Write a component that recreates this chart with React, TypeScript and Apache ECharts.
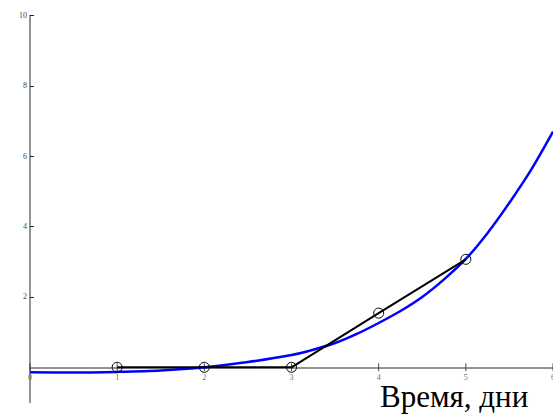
import React, { useEffect, useRef } from "react";
import * as echarts from "echarts";

// Observed data points (black polyline with circles)
const obsX = [1, 2, 3, 4, 5];
const obsY = [0, 0, 0, 1.54, 3.07];

// Fitted curve (blue)
const fitX = [0, 0.5, 1, 1.5, 2, 2.5, 3, 3.25, 3.5, 3.75, 4, 4.25, 4.5, 4.75, 5, 5.25, 5.5, 5.75, 6];
const fitY = [-0.14, -0.15, -0.13, -0.09, 0.0, 0.15, 0.35, 0.5, 0.69, 0.95, 1.26, 1.6, 2.0, 2.5, 3.08, 3.82, 4.68, 5.62, 6.7];

const xTicks = [0, 1, 2, 3, 4, 5, 6];
const yTicks = [2, 4, 6, 8, 10];
const xTitle = "Время, дни";

export default function App() {
  const ref = useRef<HTMLDivElement>(null);
  useEffect(() => {
    if (!ref.current) return;
    const chart = echarts.init(ref.current, null, { renderer: "svg" });
    const labelFont = { fontFamily: "Liberation Serif", fontSize: 8, color: "#444" };
    chart.setOption({
      animation: false,
      backgroundColor: "#fff",
      grid: { left: 30, right: 0, top: 15.5, bottom: 12.5, containLabel: false, outerBoundsMode: "none" },
      xAxis: {
        type: "value",
        min: 0,
        max: 6,
        interval: 1,
        axisLine: { show: true, onZero: true, lineStyle: { color: "#707070", width: 1.5 } },
        axisTick: { show: false },
        axisLabel: { show: false },
        splitLine: { show: false },
      },
      yAxis: {
        type: "value",
        min: -1,
        max: 10,
        axisLine: { show: true, onZero: true, lineStyle: { color: "#707070", width: 1.5 } },
        axisTick: { show: true, inside: true, length: 4, customValues: yTicks, lineStyle: { color: "#222", width: 1 } },
        axisLabel: { show: true, customValues: yTicks, margin: 3, ...labelFont },
        splitLine: { show: false },
      },
      graphic: [
        {
          type: "text",
          left: 380,
          top: 381,
          style: {
            text: xTitle,
            font: "31px 'Liberation Serif'",
            fill: "#000",
          },
        },
      ],
      series: [
        {
          // x-axis ticks and labels placed on the zero line
          type: "scatter",
          data: xTicks.map((x) => [x, 0]),
          symbol: "rect",
          symbolSize: [1, 8],
          itemStyle: { color: "#222" },
          label: {
            show: true,
            position: "bottom",
            distance: 2,
            formatter: (p: any) => String(p.value[0]),
            ...labelFont,
          },
          silent: true,
          z: 1,
        },
        {
          type: "line",
          data: fitX.map((x, i) => [x, fitY[i]]),
          smooth: 0.3,
          showSymbol: false,
          lineStyle: { color: "#0000ff", width: 2.5 },
          z: 2,
        },
        {
          type: "line",
          data: obsX.map((x, i) => [x, obsY[i]]),
          lineStyle: { color: "#000", width: 2 },
          symbol: "circle",
          symbolSize: 10,
          itemStyle: { color: "rgba(0,0,0,0)", borderColor: "#000", borderWidth: 1 },
          z: 3,
        },
      ],
    });
    return () => chart.dispose();
  }, []);
  return <div ref={ref} style={{ position: "fixed", left: 0, top: 0, width: 553, height: 415 }} />;
}
